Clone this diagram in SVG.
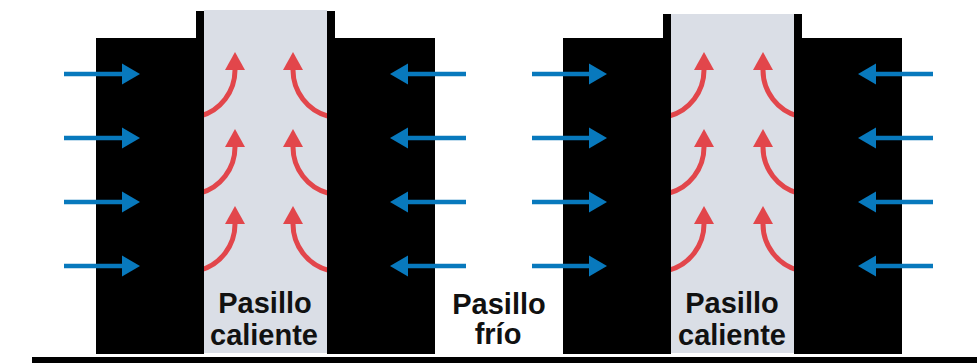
<svg xmlns="http://www.w3.org/2000/svg" width="977" height="363" viewBox="0 0 977 363">
  <style>
    .rack { fill: #000000; }
    .hot { fill: #DADEE6; }
    .cold { stroke: #0879BD; stroke-width: 4.5; fill: none; }
    .coldhead { fill: #0879BD; }
    .heat { stroke: #E2464B; stroke-width: 5; fill: none; }
    .heathead { fill: #E2464B; }
    .label { font-family: "Liberation Sans", Arial, sans-serif; font-weight: bold; font-size: 29px; fill: #111111; text-anchor: middle; }
  </style>
  <rect width="977" height="363" fill="#ffffff"/>

  <g id="hot-aisle-1">
    <rect class="hot" x="204" y="10" width="123" height="343"/>
  </g>
  <g id="hot-aisle-2">
    <rect class="hot" x="671" y="14" width="123" height="339"/>
  </g>

  <g id="connectors">
    <!-- hot air arrows, aisle 1 -->
    <g id="heat-arrows-1">
      <path class="heat" d="M235,68 L235,70 A48,48 0 0 1 199.4,116.4"/>
      <polygon class="heathead" points="235,52 225,70 245,70"/>
      <path class="heat" d="M293,68 L293,70 A48,48 0 0 0 328.6,116.4"/>
      <polygon class="heathead" points="293,52 283,70 303,70"/>

      <path class="heat" d="M235,145 L235,147 A48,48 0 0 1 199.4,193.4"/>
      <polygon class="heathead" points="235,129 225,147 245,147"/>
      <path class="heat" d="M293,145 L293,147 A48,48 0 0 0 328.6,193.4"/>
      <polygon class="heathead" points="293,129 283,147 303,147"/>

      <path class="heat" d="M235,222 L235,224 A48,48 0 0 1 199.4,270.4"/>
      <polygon class="heathead" points="235,206 225,224 245,224"/>
      <path class="heat" d="M293,222 L293,224 A48,48 0 0 0 328.6,270.4"/>
      <polygon class="heathead" points="293,206 283,224 303,224"/>
    </g>
    <!-- hot air arrows, aisle 2 -->
    <g id="heat-arrows-2">
      <path class="heat" d="M704,68 L704,70 A48,48 0 0 1 668.4,116.4"/>
      <polygon class="heathead" points="704,52 694,70 714,70"/>
      <path class="heat" d="M763,68 L763,70 A48,48 0 0 0 798.6,116.4"/>
      <polygon class="heathead" points="763,52 753,70 773,70"/>

      <path class="heat" d="M704,145 L704,147 A48,48 0 0 1 668.4,193.4"/>
      <polygon class="heathead" points="704,129 694,147 714,147"/>
      <path class="heat" d="M763,145 L763,147 A48,48 0 0 0 798.6,193.4"/>
      <polygon class="heathead" points="763,129 753,147 773,147"/>

      <path class="heat" d="M704,222 L704,224 A48,48 0 0 1 668.4,270.4"/>
      <polygon class="heathead" points="704,206 694,224 714,224"/>
      <path class="heat" d="M763,222 L763,224 A48,48 0 0 0 798.6,270.4"/>
      <polygon class="heathead" points="763,206 753,224 773,224"/>
    </g>
  </g>

  <g id="rack-1">
    <path class="rack" d="M96,38 L196,38 L196,11 L204,11 L204,354 L96,354 Z"/>
  </g>
  <g id="rack-2">
    <path class="rack" d="M327,11 L335,11 L335,38 L435,38 L435,354 L327,354 Z"/>
  </g>
  <g id="rack-3">
    <path class="rack" d="M563,38 L663,38 L663,14 L671,14 L671,354 L563,354 Z"/>
  </g>
  <g id="rack-4">
    <path class="rack" d="M794,14 L802,14 L802,38 L902,38 L902,354 L794,354 Z"/>
  </g>

  <g id="floor">
    <rect class="rack" x="32" y="357" width="945" height="6"/>
  </g>

  <g id="cold-arrows">
    <g id="cold-in-1">
      <line class="cold" x1="64" y1="74" x2="124" y2="74"/>
      <polygon class="coldhead" points="140,74 122,63.5 122,84.5"/>
      <line class="cold" x1="64" y1="138" x2="124" y2="138"/>
      <polygon class="coldhead" points="140,138 122,127.5 122,148.5"/>
      <line class="cold" x1="64" y1="202" x2="124" y2="202"/>
      <polygon class="coldhead" points="140,202 122,191.5 122,212.5"/>
      <line class="cold" x1="64" y1="266" x2="124" y2="266"/>
      <polygon class="coldhead" points="140,266 122,255.5 122,276.5"/>
    </g>
    <g id="cold-in-2">
      <line class="cold" x1="466" y1="74" x2="406" y2="74"/>
      <polygon class="coldhead" points="390,74 408,63.5 408,84.5"/>
      <line class="cold" x1="466" y1="138" x2="406" y2="138"/>
      <polygon class="coldhead" points="390,138 408,127.5 408,148.5"/>
      <line class="cold" x1="466" y1="202" x2="406" y2="202"/>
      <polygon class="coldhead" points="390,202 408,191.5 408,212.5"/>
      <line class="cold" x1="466" y1="266" x2="406" y2="266"/>
      <polygon class="coldhead" points="390,266 408,255.5 408,276.5"/>
    </g>
    <g id="cold-in-3">
      <line class="cold" x1="532" y1="74" x2="591" y2="74"/>
      <polygon class="coldhead" points="607,74 589,63.5 589,84.5"/>
      <line class="cold" x1="532" y1="138" x2="591" y2="138"/>
      <polygon class="coldhead" points="607,138 589,127.5 589,148.5"/>
      <line class="cold" x1="532" y1="202" x2="591" y2="202"/>
      <polygon class="coldhead" points="607,202 589,191.5 589,212.5"/>
      <line class="cold" x1="532" y1="266" x2="591" y2="266"/>
      <polygon class="coldhead" points="607,266 589,255.5 589,276.5"/>
    </g>
    <g id="cold-in-4">
      <line class="cold" x1="933" y1="74" x2="874" y2="74"/>
      <polygon class="coldhead" points="858,74 876,63.5 876,84.5"/>
      <line class="cold" x1="933" y1="138" x2="874" y2="138"/>
      <polygon class="coldhead" points="858,138 876,127.5 876,148.5"/>
      <line class="cold" x1="933" y1="202" x2="874" y2="202"/>
      <polygon class="coldhead" points="858,202 876,191.5 876,212.5"/>
      <line class="cold" x1="933" y1="266" x2="874" y2="266"/>
      <polygon class="coldhead" points="858,266 876,255.5 876,276.5"/>
    </g>
  </g>

  <g id="label-hot-1">
    <text class="label" x="265" y="313">Pasillo</text>
    <text class="label" x="264" y="345">caliente</text>
  </g>
  <g id="label-cold">
    <text class="label" x="499" y="314">Pasillo</text>
    <text class="label" x="498" y="344">frío</text>
  </g>
  <g id="label-hot-2">
    <text class="label" x="732" y="313">Pasillo</text>
    <text class="label" x="732" y="345">caliente</text>
  </g>
</svg>
